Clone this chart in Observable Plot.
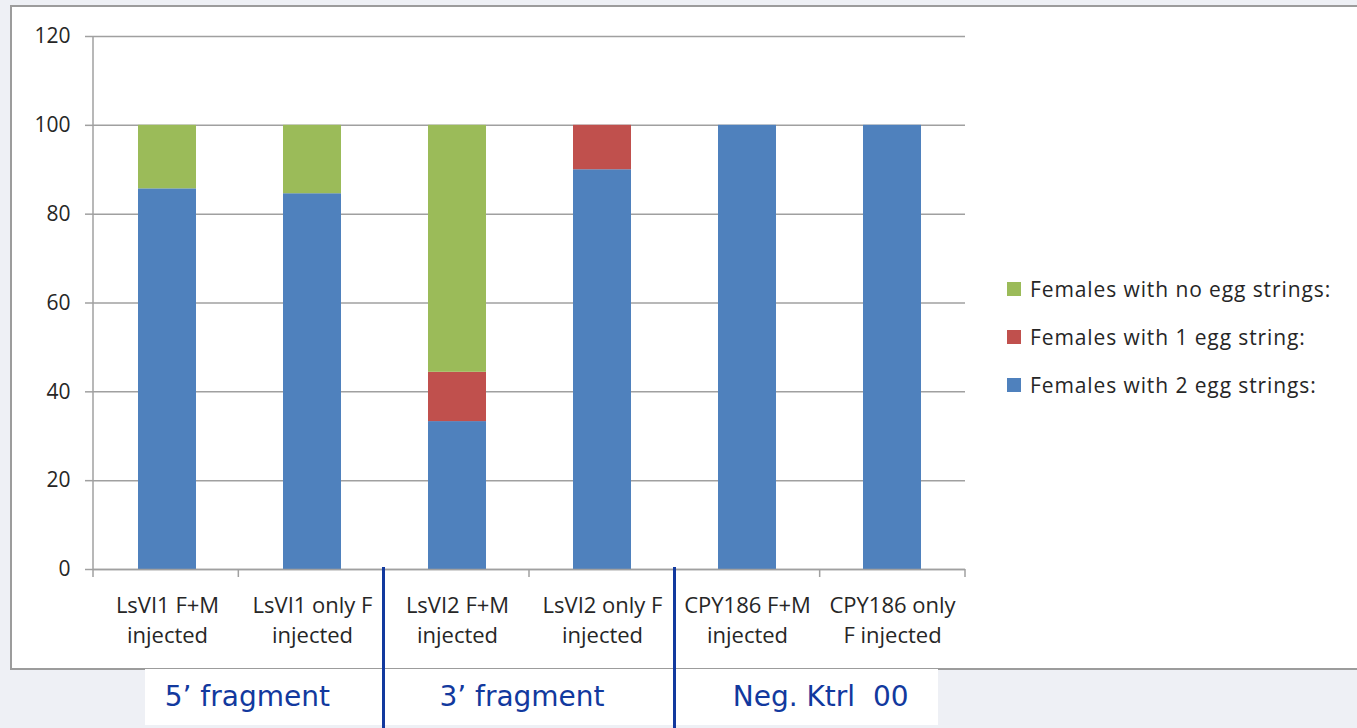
<!DOCTYPE html>
<html><head><meta charset="utf-8">
<script src="https://cdn.jsdelivr.net/npm/d3@7"></script>
<script src="https://cdn.jsdelivr.net/npm/@observablehq/plot@0.6"></script>
<style>
html,body{margin:0;padding:0;}
body{width:1357px;height:728px;background:#eef0f5;position:relative;overflow:hidden;font-family:"Open Sans",Lato,sans-serif;}
#box{position:absolute;left:10px;top:5px;width:1360px;height:661px;background:#fff;border:2px solid #9c9c9c;border-right:none;}
#labelbox{position:absolute;left:145px;top:669px;width:793px;height:56px;background:#fff;}
#plot{position:absolute;left:0;top:0;}
.sep{position:absolute;top:567px;width:3px;height:161px;background:#12399e;}
.grp{position:absolute;top:680px;font-family:"DejaVu Sans",sans-serif;font-size:28px;color:#12399e;white-space:pre;transform:translateX(-50%);}
#legend{position:absolute;left:1007px;top:265px;font-size:21px;letter-spacing:0.9px;color:#262626;}
#legend .row{height:48px;display:flex;align-items:center;white-space:nowrap;}
#legend .sw{width:14px;height:14px;margin-right:9px;}
</style></head>
<body>
<div id="box"></div>
<div id="labelbox"></div>
<div id="plot"></div>
<div id="legend"></div>
<script>
const categories = ["LsVI1 F+M injected","LsVI1 only F injected","LsVI2 F+M injected","LsVI2 only F injected","CPY186 F+M injected","CPY186 only F injected"];
const tickLabels = ["LsVI1 F+M\ninjected","LsVI1 only F\ninjected","LsVI2 F+M\ninjected","LsVI2 only F\ninjected","CPY186 F+M\ninjected","CPY186 only\nF injected"];
const seriesNames = ["Females with 2 egg strings:","Females with 1 egg string:","Females with no egg strings:"];
const twoEgg = [85.7, 84.6, 33.3, 90.0, 100, 100];
const oneEgg = [0, 0, 11.1, 10.0, 0, 0];
const noEgg = [14.3, 15.4, 55.6, 0, 0, 0];
const seriesColors = ["#4f81bd","#c0504d","#9bbb59"];
const yTicks = [0,20,40,60,80,100,120];
const groupLabels = ["5\u2019 fragment","3\u2019 fragment","Neg. Ktrl  00"];
const groupNudge = [9, -7, 1];

const W = 1357, H = 728, mL = 93, mR = 392, mT = 36, mB = 159;
const step = (W - mL - mR) / categories.length;

const seriesValues = [twoEgg, oneEgg, noEgg];
const data = [];
seriesNames.forEach((s, si) => categories.forEach((c, ci) => data.push({category: c, series: s, value: seriesValues[si][ci]})));

function frameBits(index, scales, values, dims) {
  const ns = "http://www.w3.org/2000/svg";
  const g = document.createElementNS(ns, "g");
  const x0 = dims.marginLeft, x1 = dims.width - dims.marginRight;
  const yb = dims.height - dims.marginBottom, yt = dims.marginTop;
  const n = categories.length;
  const mk = (a,b,c,d) => { const l = document.createElementNS(ns,"line"); l.setAttribute("x1",a); l.setAttribute("y1",b); l.setAttribute("x2",c); l.setAttribute("y2",d); l.setAttribute("stroke","#a0a0a0"); l.setAttribute("stroke-width","1.5"); g.appendChild(l); };
  mk(x0, yt, x0, yb);
  for (let k = 0; k <= n; k++) { const x = x0 + (x1 - x0) * k / n; mk(x, yb, x, yb + 8); }
  return g;
}

const chart = Plot.plot({
  width: W, height: H,
  marginLeft: mL, marginRight: mR, marginTop: mT, marginBottom: mB,
  style: {background: "transparent", fontFamily: "'Open Sans', Lato, sans-serif", color: "#262626", overflow: "visible"},
  x: {domain: categories, paddingInner: 0.6, paddingOuter: 0.3, axis: null},
  y: {domain: [0, 120], axis: null},
  color: {domain: seriesNames, range: seriesColors},
  marks: [
    Plot.gridY(yTicks, {stroke: "#a0a0a0", strokeOpacity: 1, strokeWidth: 1.5}),
    Plot.axisY({ticks: yTicks, tickSize: 8, tickPadding: 15, stroke: "#a0a0a0", strokeWidth: 1.5, fill: "#262626", fontSize: 21, label: null}),
    Plot.barY(data, {x: "category", y: "value", fill: "series"}),
    Plot.ruleY([0], {stroke: "#a0a0a0", strokeWidth: 1.5}),
    frameBits,
    Plot.axisX({tickSize: 0, tickPadding: 22, fontSize: 22, lineHeight: 1.38, fill: "#262626", label: null, style: {letterSpacing: "0.4px"}, tickFormat: d => tickLabels[categories.indexOf(d)]})
  ]
});
document.getElementById("plot").appendChild(chart);

// legend (top to bottom: reverse of stack order)
const leg = document.getElementById("legend");
for (let i = seriesNames.length - 1; i >= 0; i--) {
  const r = document.createElement("div"); r.className = "row";
  const sw = document.createElement("div"); sw.className = "sw"; sw.style.background = seriesColors[i];
  const t = document.createElement("span"); t.textContent = seriesNames[i];
  r.appendChild(sw); r.appendChild(t); leg.appendChild(r);
}
// group separators & labels
[2, 4].forEach(k => { const d = document.createElement("div"); d.className = "sep"; d.style.left = (mL + step * k - 1.5) + "px"; document.body.appendChild(d); });
groupLabels.forEach((g, i) => { const d = document.createElement("div"); d.className = "grp"; d.textContent = g; d.style.left = (mL + step * (2 * i + 1) + groupNudge[i]) + "px"; document.body.appendChild(d); });
</script>
</body></html>
